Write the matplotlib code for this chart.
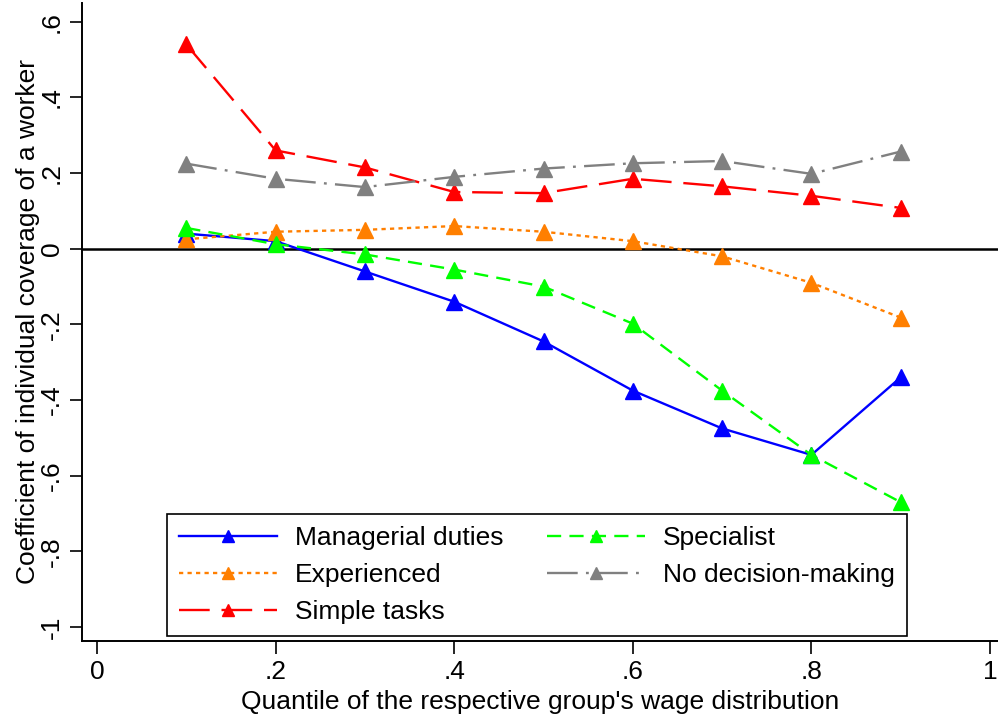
import numpy as np
import matplotlib
matplotlib.use("Agg")
import matplotlib.pyplot as plt

plt.rcParams['font.family'] = ['Liberation Sans', 'DejaVu Sans']

quantiles = [0.1, 0.2, 0.3, 0.4, 0.5, 0.6, 0.7, 0.8, 0.9]
managerial = [0.04, 0.02, -0.06, -0.14, -0.245, -0.375, -0.475, -0.545, -0.34]
experienced = [0.025, 0.045, 0.05, 0.06, 0.045, 0.02, -0.02, -0.09, -0.182]
simple_tasks = [0.54, 0.26, 0.215, 0.15, 0.147, 0.185, 0.165, 0.14, 0.108]
specialist = [0.055, 0.012, -0.015, -0.055, -0.1, -0.198, -0.375, -0.545, -0.67]
no_decision = [0.225, 0.185, 0.163, 0.19, 0.212, 0.226, 0.232, 0.198, 0.257]

xticks = [0, 0.2, 0.4, 0.6, 0.8, 1.0]
xticklabels = ['0', '.2', '.4', '.6', '.8', '1']
yticks = [-1, -0.8, -0.6, -0.4, -0.2, 0, 0.2, 0.4, 0.6]
yticklabels = ['-1', '-.8', '-.6', '-.4', '-.2', '0', '.2', '.4', '.6']

fig = plt.figure(figsize=(9.98, 7.2), dpi=100)
ax = fig.add_axes([0.0822, 0.1097, 0.9178, 0.8863])

fs = 19
ms = 11
lw = 1.7
ax.axhline(0, color='black', lw=1.8, zorder=1)
l1, = ax.plot(quantiles, managerial, color='#0000FF', ls='-', lw=lw, marker='^', ms=ms, label='Managerial duties')
l2, = ax.plot(quantiles, experienced, color='#FF7F00', ls=(0, (1.8, 1.8)), lw=lw, marker='^', ms=ms, label='Experienced')
l3, = ax.plot(quantiles, simple_tasks, color='#FF0000', ls=(0, (13, 5)), lw=lw, marker='^', ms=ms, label='Simple tasks')
l4, = ax.plot(quantiles, specialist, color='#00FF00', ls=(0, (6, 3.5)), lw=lw, marker='^', ms=ms, label='Specialist')
l5, = ax.plot(quantiles, no_decision, color='#808080', ls=(0, (13, 3.5, 1.2, 3.5)), lw=lw, marker='^', ms=ms, label='No decision-making')

ax.set_xlim(-0.0168, 1.009)
ax.set_ylim(-1.037, 0.65)
ax.set_xticks(xticks)
ax.set_xticklabels(xticklabels)
ax.set_yticks(yticks)
ax.set_yticklabels(yticklabels, rotation=90, va='center')
ax.tick_params(axis='both', labelsize=fs, length=9, width=1.2, color='black')
ax.tick_params(axis='x', pad=5)
ax.tick_params(axis='y', pad=4)
for side in ['top', 'right']:
    ax.spines[side].set_visible(False)
for side in ['left', 'bottom']:
    ax.spines[side].set_linewidth(1.4)

ax.set_xlabel("Quantile of the respective group's wage distribution", fontsize=fs, labelpad=4)
ax.set_ylabel("Coefficient of individual coverage of a worker", fontsize=fs, labelpad=0)

leg = ax.legend(handles=[l1, l2, l3, l4, l5], ncol=2, loc='lower left',
                bbox_to_anchor=(0.0928, 0.0078), borderaxespad=0,
                fontsize=fs, handlelength=3.7, markerscale=0.75, fancybox=False,
                edgecolor='black', framealpha=1, borderpad=0.45, labelspacing=0.5,
                columnspacing=1.65, handletextpad=0.7)
leg.get_frame().set_linewidth(1.2)

fig.savefig('out.png', dpi=100)
